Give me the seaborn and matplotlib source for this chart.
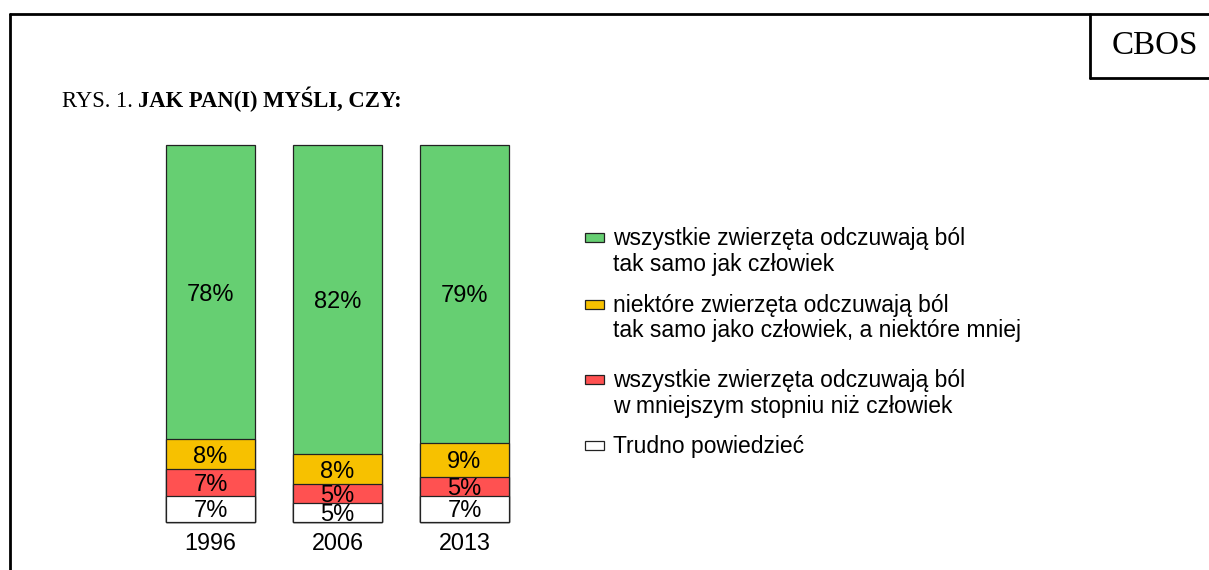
import pandas as pd
import seaborn as sns
import matplotlib
matplotlib.use('Agg')
from matplotlib import pyplot as plt
from matplotlib.patches import Rectangle
from matplotlib.lines import Line2D

# dane z wykresu CBOS
lata = ['1996', '2006', '2013']
trudno = [7, 5, 7]
mniej = [7, 5, 5]
niektore = [8, 8, 9]
wszystkie = [78, 82, 79]

kategorie = ['wszystkie zwierzęta odczuwają ból\ntak samo jak człowiek',
             'niektóre zwierzęta odczuwają ból\ntak samo jako człowiek, a niektóre mniej',
             'wszystkie zwierzęta odczuwają ból\nw mniejszym stopniu niż człowiek',
             'Trudno powiedzieć']
kolory = ['#66cf72', '#f7c100', '#ff5151', '#ffffff']

df = pd.DataFrame({'rok': lata, 'trudno': trudno, 'mniej': mniej,
                   'niektore': niektore, 'wszystkie': wszystkie})
# sumy skumulowane do "stackowania" (rysujemy od najwyzszego)
df['c1'] = df['trudno']
df['c2'] = df['c1'] + df['mniej']
df['c3'] = df['c2'] + df['niektore']
df['c4'] = df['c3'] + df['wszystkie']

sns.set_style('white')
plt.rcParams['font.family'] = ['Liberation Sans', 'DejaVu Sans']
plt.rcParams['text.color'] = 'black'
plt.rcParams['xtick.color'] = 'black'

W, H = 1209, 570
fig = plt.figure(figsize=(W / 100, H / 100), dpi=100)

def fx(px):
    return px / W

def fy(py):
    return 1 - py / H

ax = fig.add_axes([fx(147), fy(522), fx(528) - fx(147), fy(145) - fy(522)])

for col, kolor in zip(['c4', 'c3', 'c2', 'c1'], kolory):
    sns.barplot(data=df, x='rok', y=col, color=kolor, width=0.7,
                edgecolor='#222222', linewidth=0.9, saturation=1, ax=ax)
for p in ax.patches:
    p.set_clip_on(False)

# etykiety procentowe w srodku segmentow
segmenty = [('trudno', None), ('mniej', 'c1'), ('niektore', 'c2'), ('wszystkie', 'c3')]
for i in range(len(lata)):
    for col, dol in segmenty:
        v = df[col][i]
        b = 0 if dol is None else df[dol][i]
        ax.text(i, b + v / 2, f'{v}%', ha='center', va='center_baseline', fontsize=17)

ax.set_ylim(0, 100)
ax.set_xlim(-0.5, 2.5)
ax.set_xlabel('')
ax.set_ylabel('')
ax.set_yticks([])
ax.tick_params(axis='x', length=0, labelsize=16.8, pad=7)
sns.despine(ax=ax, left=True, bottom=True)

# legenda recznie (linie bazowe tekstu)
leg_base = [245, 312, 387, 453]
for lab, kolor, yb in zip(kategorie, kolory, leg_base):
    yc = yb - 8
    fig.patches.append(Rectangle((fx(585), fy(yc + 4.5)), fx(604) - fx(585), fy(yc - 4.5) - fy(yc + 4.5),
                                 transform=fig.transFigure, facecolor=kolor,
                                 edgecolor='#222222', linewidth=0.9))
    for k, linia in enumerate(lab.split('\n')):
        fig.text(fx(613), fy(yb + 25.5 * k), linia, ha='left', va='baseline', fontsize=16.5)

# ramka
kw = dict(transform=fig.transFigure, color='black', linewidth=2)
fig.lines.append(Line2D([fx(10), fx(10)], [fy(14), 0], **kw))
fig.lines.append(Line2D([fx(10), 1], [fy(14), fy(14)], **kw))
fig.lines.append(Line2D([fx(1090), fx(1090)], [fy(14), fy(78)], **kw))
fig.lines.append(Line2D([fx(1090), 1], [fy(78), fy(78)], **kw))

fig.text(fx(1155), fy(54), 'CBOS', ha='center', va='baseline', fontsize=23.8,
         family='Liberation Serif')

t1 = fig.text(fx(62), fy(107), 'RYS. 1. ', ha='left', va='baseline', fontsize=16.3,
              family='Liberation Serif')
fig.canvas.draw()
ax.annotate('JAK PAN(I) MYŚLI, CZY:', xy=(1, 0), xycoords=t1, ha='left', va='bottom',
            fontsize=16.3, family='Liberation Serif', fontweight='bold',
            annotation_clip=False)

plt.savefig('out.png', dpi=100)
